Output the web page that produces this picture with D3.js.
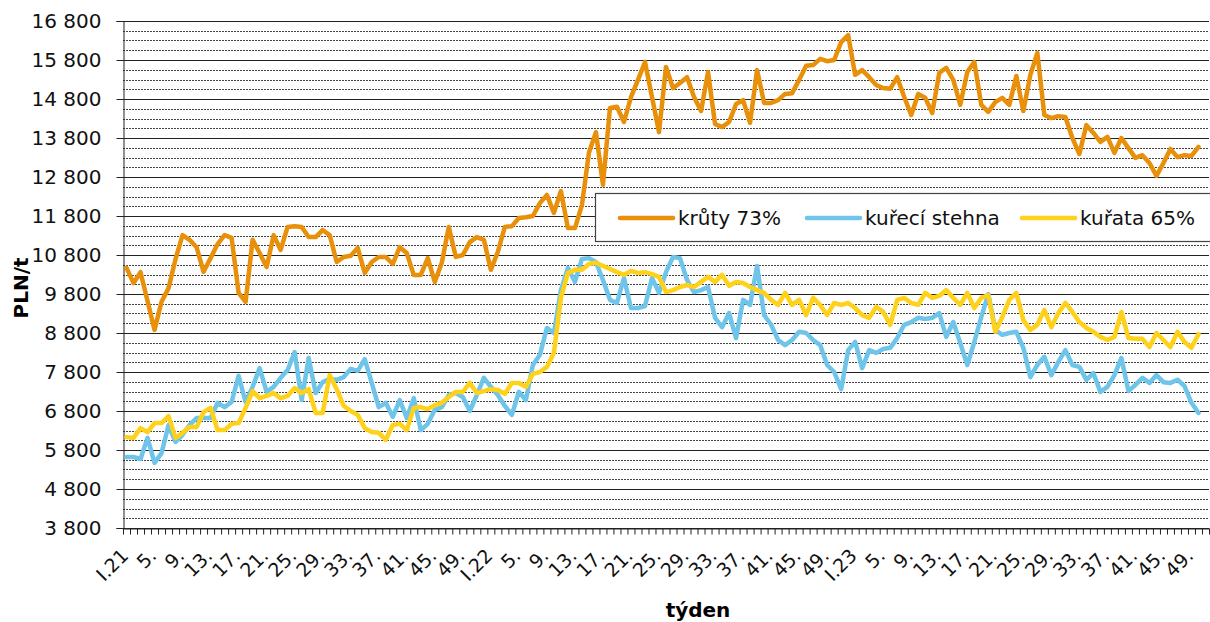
<!DOCTYPE html>
<html>
<head>
<meta charset="utf-8">
<script src="https://cdn.jsdelivr.net/npm/d3@7"></script>
<style>
  html, body { margin: 0; padding: 0; background: #fff; }
  svg { display: block; font-family: Verdana, "DejaVu Sans", sans-serif; }
</style>
</head>
<body>
<div id="chart"></div>
<script>
// weekly prices PLN/t, week 1/2021 .. week 50/2023
const kruty = [
  10470, 10080, 10360, 9620, 8880, 9600, 9950, 10700, 11310, 11190, 11000, 10370, 10720, 11080, 11310, 11240,
  9830, 9600, 11190, 10850, 10490, 11310, 10930, 11520, 11540, 11520, 11260, 11260, 11440, 11310, 10620, 10750,
  10780, 10980, 10340, 10620, 10750, 10750, 10570, 11000, 10850, 10290, 10290, 10720, 10110, 10600, 11520, 10750,
  10800, 11130, 11260, 11190, 10420, 10880, 11520, 11540, 11750, 11770, 11800, 12130, 12340, 11880, 12440, 11490,
  11490, 12080, 13420, 13950, 12600, 14570, 14600, 14210, 14850, 15290, 15750, 14850, 13950, 15620, 15080, 15210,
  15360, 14850, 14490, 15490, 14160, 14080, 14210, 14670, 14770, 14190, 15540, 14700, 14700, 14770, 14930, 14950,
  15290, 15650, 15670, 15830, 15770, 15800, 16260, 16440, 15420, 15540, 15360, 15160, 15080, 15060, 15360, 14850,
  14390, 14930, 14830, 14440, 15470, 15600, 15290, 14650, 15490, 15750, 14650, 14470, 14720, 14830, 14650, 15390,
  14490, 15420, 15980, 14390, 14310, 14360, 14340, 13800, 13390, 14130, 13930, 13700, 13830, 13420, 13800, 13540,
  13290, 13360, 13160, 12830, 13160, 13520, 13310, 13360, 13340, 13570
];
const stehna = [
  5620, 5620, 5570, 6110, 5470, 5720, 6440, 6010, 6190, 6440, 6620, 6620, 6620, 7010, 6900, 7030,
  7700, 7030, 7420, 7900, 7290, 7420, 7650, 7850, 8310, 7080, 8160, 7260, 7540, 7620, 7600, 7670,
  7880, 7830, 8130, 7520, 6900, 7010, 6650, 7080, 6620, 7130, 6310, 6470, 6830, 6900, 7210, 7260,
  7160, 6800, 7210, 7650, 7420, 7210, 6930, 6700, 7290, 7080, 7980, 8240, 8930, 8800, 9900, 10470,
  10110, 10700, 10720, 10620, 10160, 9650, 9570, 10210, 9440, 9440, 9490, 10210, 9830, 10360, 10750, 10720,
  10160, 9850, 9900, 9980, 9190, 8950, 9310, 8670, 9650, 9520, 10520, 9260, 9010, 8620, 8490, 8620,
  8830, 8800, 8620, 8490, 7980, 7800, 7360, 8360, 8570, 7900, 8360, 8290, 8390, 8420, 8670, 9010,
  9080, 9190, 9160, 9190, 9310, 8700, 9080, 8540, 7980, 8570, 9210, 9800, 8880, 8750, 8800, 8830,
  8420, 7670, 7980, 8190, 7720, 8060, 8360, 7980, 7930, 7600, 7770, 7290, 7420, 7720, 8160, 7310,
  7470, 7650, 7520, 7720, 7540, 7520, 7600, 7440, 7010, 6750
];
const kurata = [
  6130, 6110, 6360, 6260, 6490, 6490, 6670, 6110, 6240, 6390, 6390, 6770, 6880, 6310, 6310, 6470,
  6490, 6880, 7310, 7130, 7190, 7260, 7130, 7190, 7390, 7260, 7360, 6750, 6750, 7720, 7360, 6930,
  6800, 6700, 6360, 6260, 6240, 6060, 6440, 6470, 6310, 6880, 6900, 6850, 6950, 7010, 7160, 7290,
  7290, 7520, 7260, 7310, 7360, 7340, 7240, 7520, 7520, 7420, 7750, 7800, 7930, 8290, 9700, 10340,
  10420, 10420, 10570, 10600, 10520, 10440, 10360, 10290, 10390, 10340, 10360, 10310, 10240, 9850, 9900, 9980,
  10030, 9980, 10110, 10240, 10110, 10290, 10010, 10110, 10080, 9980, 9900, 9830, 9650, 9520, 9830, 9520,
  9650, 9260, 9700, 9520, 9260, 9570, 9520, 9570, 9440, 9260, 9190, 9470, 9340, 9010, 9650, 9700,
  9570, 9520, 9830, 9700, 9750, 9900, 9700, 9520, 9830, 9440, 9700, 9770, 8830, 9210, 9650, 9830,
  9130, 8880, 9010, 9390, 8950, 9310, 9570, 9340, 9080, 8930, 8830, 8700, 8620, 8700, 9340, 8670,
  8650, 8650, 8440, 8800, 8620, 8440, 8830, 8570, 8420, 8770
];
const seriesNames = ['krůty 73%', 'kuřecí stehna', 'kuřata 65%'];
const seriesColors = ['#e8900a', '#6ec5e9', '#ffd11a'];
const yearLabels = ['21', '22', '23'];
const weeksInAxis = [52, 52, 51];
const yTicks = [3800, 4800, 5800, 6800, 7800, 8800, 9800, 10800, 11800, 12800, 13800, 14800, 15800, 16800];

// category labels: I.21, 2., 3. ... (only every 4th is printed)
const weeks = [];
yearLabels.forEach((yy, k) => {
  for (let w = 1; w <= weeksInAxis[k]; w++) weeks.push(w === 1 ? `I.${yy}` : `${w}.`);
});

const width = 1210, height = 622;
const plotLeft = 123, plotRight = 1209, plotTop = 21, plotBottom = 528;

const svg = d3.select('#chart').append('svg')
  .attr('width', width)
  .attr('height', height)
  .attr('viewBox', [0, 0, width, height]);

const x = d3.scaleBand()
  .domain(d3.range(weeks.length))
  .range([plotLeft, plotRight])
  .padding(0);

const xEdge = d3.scaleLinear()
  .domain([0, weeks.length])
  .range([plotLeft, plotRight]);

const y = d3.scaleLinear()
  .domain([3800, 16800])
  .range([plotBottom, plotTop]);

const crisp = v => Math.round(v) + 0.5;

// minor gridlines every 250
const minor = d3.range(3800, 16800, 250).filter(v => (v - 3800) % 1000 !== 0);
svg.append('g')
  .selectAll('line')
  .data(minor)
  .join('line')
    .attr('x1', plotLeft)
    .attr('x2', plotRight)
    .attr('y1', d => crisp(y(d)))
    .attr('y2', d => crisp(y(d)))
    .attr('stroke', '#444')
    .attr('stroke-width', 1)
    .attr('stroke-dasharray', '2,1');

// major gridlines
svg.append('g')
  .selectAll('line')
  .data(yTicks)
  .join('line')
    .attr('x1', plotLeft)
    .attr('x2', plotRight)
    .attr('y1', d => crisp(y(d)))
    .attr('y2', d => crisp(y(d)))
    .attr('stroke', '#222')
    .attr('stroke-width', 1);

// y axis
svg.append('g')
  .attr('transform', `translate(${plotLeft + 0.5},0)`)
  .call(d3.axisLeft(y)
    .tickValues(yTicks)
    .tickSize(7)
    .tickPadding(15)
    .tickFormat(d => d3.format(',')(d).replace(/,/g, ' ')))
  .call(g => g.select('.domain').attr('stroke', '#222'))
  .call(g => g.selectAll('.tick line').attr('stroke', '#222'))
  .call(g => g.selectAll('.tick text')
    .attr('font-size', 20)
    .attr('font-family', 'Verdana, "DejaVu Sans", sans-serif')
    .attr('fill', '#111'));

// x axis: tick marks on category boundaries
svg.append('g')
  .attr('transform', `translate(0,${crisp(y(3800))})`)
  .call(d3.axisBottom(xEdge)
    .tickValues(d3.range(weeks.length + 1))
    .tickSize(6)
    .tickSizeOuter(0)
    .tickFormat(''))
  .call(g => g.select('.domain').attr('stroke', '#222'))
  .call(g => g.selectAll('.tick line').attr('stroke', '#222'));

// x labels, rotated
svg.append('g')
  .selectAll('text')
  .data(weeks.map((w, i) => ({ w, i })).filter(d => d.i % 4 === 0))
  .join('text')
    .attr('transform', d => `translate(${x(d.i) + x.bandwidth() / 2 + 3},557) rotate(-45)`)
    .attr('text-anchor', 'end')
    .attr('font-size', 19)
    .attr('fill', '#111')
    .text(d => d.w);

// series lines
const line = d3.line()
  .x((d, i) => x(i) + x.bandwidth() / 2)
  .y(d => y(d));

[kruty, stehna, kurata].forEach((s, k) => {
  svg.append('path')
    .datum(s)
    .attr('fill', 'none')
    .attr('stroke', seriesColors[k])
    .attr('stroke-width', 4.5)
    .attr('stroke-linejoin', 'round')
    .attr('stroke-linecap', 'round')
    .attr('d', line);
});

// axis titles
svg.append('text')
  .attr('transform', 'translate(28,288) rotate(-90)')
  .attr('text-anchor', 'middle')
  .attr('font-size', 20)
  .attr('font-weight', 'bold')
  .text('PLN/t');

svg.append('text')
  .attr('x', 698)
  .attr('y', 617)
  .attr('text-anchor', 'middle')
  .attr('font-size', 20)
  .attr('font-weight', 'bold')
  .text('týden');

// legend
const legend = svg.append('g');
legend.append('rect')
  .attr('x', 595.5)
  .attr('y', 193.5)
  .attr('width', 630)
  .attr('height', 48)
  .attr('fill', '#fff')
  .attr('stroke', '#444')
  .attr('stroke-width', 1.2);

const legendX = [620, 807, 1022];
seriesNames.forEach((name, k) => {
  legend.append('line')
    .attr('x1', legendX[k])
    .attr('x2', legendX[k] + 53)
    .attr('y1', 218)
    .attr('y2', 218)
    .attr('stroke', seriesColors[k])
    .attr('stroke-width', 4.5)
    .attr('stroke-linecap', 'round');
  legend.append('text')
    .attr('x', legendX[k] + 58)
    .attr('y', 225)
    .attr('font-size', 20)
    .attr('fill', '#111')
    .text(name);
});
</script>
</body>
</html>
